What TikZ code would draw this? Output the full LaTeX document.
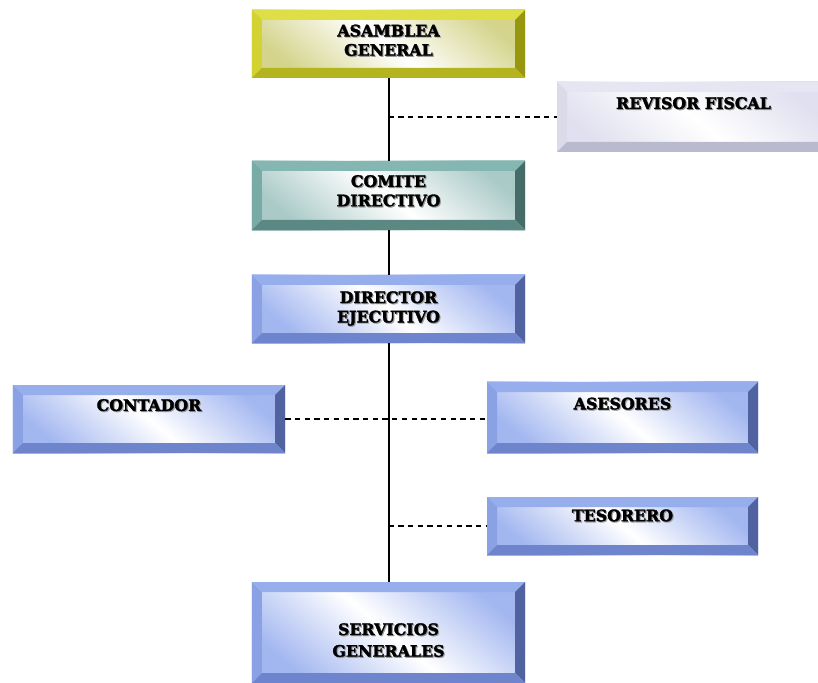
\documentclass[tikz,border=0pt]{standalone}
\usepackage{fontspec}
\setmainfont{DejaVu Serif}[BoldFeatures={FakeBold=2}]
\usepackage{xcolor}

% bevel colours
\definecolor{yelTop}{RGB}{222,222,70}
\definecolor{yelLeft}{RGB}{210,210,50}
\definecolor{yelRight}{RGB}{150,150,15}
\definecolor{yelBot}{RGB}{180,180,30}
\definecolor{yelFace}{RGB}{212,212,140}
\definecolor{tealTop}{RGB}{132,182,178}
\definecolor{tealLeft}{RGB}{120,170,166}
\definecolor{tealRight}{RGB}{70,108,104}
\definecolor{tealBot}{RGB}{92,136,132}
\definecolor{tealFace}{RGB}{170,202,199}
\definecolor{lavTop}{RGB}{230,230,242}
\definecolor{lavLeft}{RGB}{218,218,232}
\definecolor{lavRight}{RGB}{194,194,212}
\definecolor{lavBot}{RGB}{186,186,206}
\definecolor{lavFace}{RGB}{224,224,240}
\definecolor{bluTop}{RGB}{150,174,236}
\definecolor{bluLeft}{RGB}{138,162,228}
\definecolor{bluRight}{RGB}{80,98,160}
\definecolor{bluBot}{RGB}{110,132,204}
\definecolor{bluFace}{RGB}{162,182,240}

% text with a soft shadow
\newcommand{\shd}[1]{\makebox[0pt][l]{\hspace{0.9pt}\raisebox{-0.9pt}{\color{black!40}#1}}#1}

\def\bw{0.3cm}
\tikzset{
  orgbox/.style={shade, left color=#1Face, right color=#1Face, middle color=white, shading angle=-40,
    minimum width=8.19cm, minimum height=2.04cm, inner sep=0pt, align=center,
    font=\fontsize{13.5}{16.5}\selectfont\bfseries,
    path picture={
      \coordinate (pa) at (path picture bounding box.north west);
      \coordinate (pb) at (path picture bounding box.north east);
      \coordinate (pc) at (path picture bounding box.south east);
      \coordinate (pd) at (path picture bounding box.south west);
      \coordinate (qa) at ([shift={(\bw,-\bw)}]pa);
      \coordinate (qb) at ([shift={(-\bw,-\bw)}]pb);
      \coordinate (qc) at ([shift={(-\bw,\bw)}]pc);
      \coordinate (qd) at ([shift={(\bw,\bw)}]pd);
      \fill[#1Top] (pa) -- (pb) -- (qb) -- (qa) -- cycle;
      \fill[#1Left] (pa) -- (qa) -- (qd) -- (pd) -- cycle;
      \fill[#1Right] (pb) -- (pc) -- (qc) -- (qb) -- cycle;
      \fill[#1Bot] (pd) -- (qd) -- (qc) -- (pc) -- cycle;
    }},
  oneline/.style={text depth=0.84cm},
  solidline/.style={line width=1.7pt},
  dashline/.style={line width=0.9pt, dash pattern=on 4.5pt off 3.8pt}
}

\begin{document}
\begin{tikzpicture}[x=0.03cm, y=-0.03cm]
  \useasboundingbox (0,0) rectangle (818,683);

  \node[orgbox=yel, text depth=0.23cm] (asamblea) at (388.5,44) {\shd{ASAMBLEA}\\\shd{GENERAL}};
  \node[orgbox=lav, oneline, minimum height=2.1cm] (revisor) at (693.5,117) {\shd{REVISOR FISCAL}};
  \node[orgbox=teal, minimum height=2.07cm, text depth=0.29cm] (comite) at (388.5,195.5) {\shd{COMITE}\\\shd{DIRECTIVO}};
  \node[orgbox=blu] (director) at (388.5,309) {\shd{DIRECTOR}\\\shd{EJECUTIVO}};
  \node[orgbox=blu, oneline, minimum width=8.16cm] (contador) at (149,419) {\shd{CONTADOR}};
  \node[orgbox=blu, oneline, minimum width=8.13cm, minimum height=2.13cm] (asesores) at (622.5,417.5) {\shd{ASESORES}};
  \node[orgbox=blu, oneline, minimum width=8.13cm, minimum height=1.74cm, text depth=0.64cm] (tesorero) at (622.5,526) {\shd{TESORERO}};
  \node[orgbox=blu, minimum height=3.03cm, text height=1.49cm] (servicios) at (388.5,632.5) {\shd{SERVICIOS}\\[2pt]\shd{GENERALES}};

  % lines
  \draw[solidline] (asamblea) -- (comite);
  \draw[solidline] (comite) -- (director);
  \draw[solidline] (director) -- (servicios);
  \draw[dashline] (revisor.west -| asamblea.south) -- (revisor.west);
  \draw[dashline] (contador.east) -- (asesores.west |- contador.east);
  \draw[dashline] (tesorero.west -| director.south) -- (tesorero.west);
\end{tikzpicture}
\end{document}
